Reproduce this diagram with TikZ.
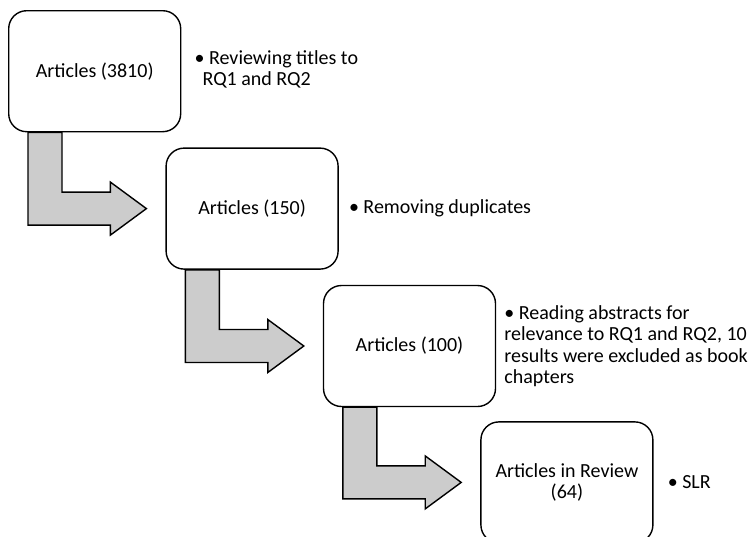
\documentclass[tikz,border=0pt]{standalone}
\usepackage{fontspec}
\setmainfont{Carlito}
\usetikzlibrary{calc,backgrounds}
\definecolor{shaftgray}{RGB}{204,204,204}
\tikzset{
  stage/.style={draw,line width=1.4pt,rounded corners=18pt,fill=white,
    minimum width=172pt,minimum height=121pt,align=center,inner sep=0pt},
  note/.style={anchor=west,align=left,inner sep=0pt},
  bent/.style={draw,line width=1.4pt,fill=shaftgray,line join=miter}
}
\begin{document}
\begin{tikzpicture}[x=1pt,y=1pt,font=\fontsize{20}{21.5}\selectfont]
\useasboundingbox (0,0) rectangle (755,-536);
\node[stage,anchor=north west] at (8,-10) (a3810) {Articles (3810)};
\node[stage,anchor=north west] at ($(a3810.south east)+(-16,-15)$) (a150) {Articles (150)};
\node[stage,anchor=north west] at ($(a150.south east)+(-16,-15)$) (a100) {Articles (100)};
\node[stage,anchor=north west] at ($(a100.south east)+(-16,-14)$) (a64) {Articles in Review\\(64)};
\node[note] at ($(a3810.east)+(13,2)$) (titles) {• Reviewing titles to\\\hspace*{8pt}RQ1 and RQ2};
\node[note] at ($(a150.east)+(10,0)$) (dups) {• Removing duplicates};
\node[note] at ($(a100.east)+(8,0)$) (abstr) {• Reading abstracts for\\relevance to RQ1 and RQ2, 10\\results were excluded as book\\chapters};
\node[note] at ($(a64.east)+(14,0)$) (slr) {• SLR};
\begin{scope}[on background layer]
\foreach \from/\to in {a3810/a150,a150/a100,a100/a64}
  \draw[bent] ($(\from.south west)+(20,0)$) |- ($(\to.west)+(-55,-16.5)$) -- ++(0,-10)
    -- ($(\to.west)+(-19,0)$) -- ++(-36,26.5) -- ++(0,-10) -| ($(\from.south west)+(54,0)$) -- cycle;
\end{scope}
\end{tikzpicture}
\end{document}
